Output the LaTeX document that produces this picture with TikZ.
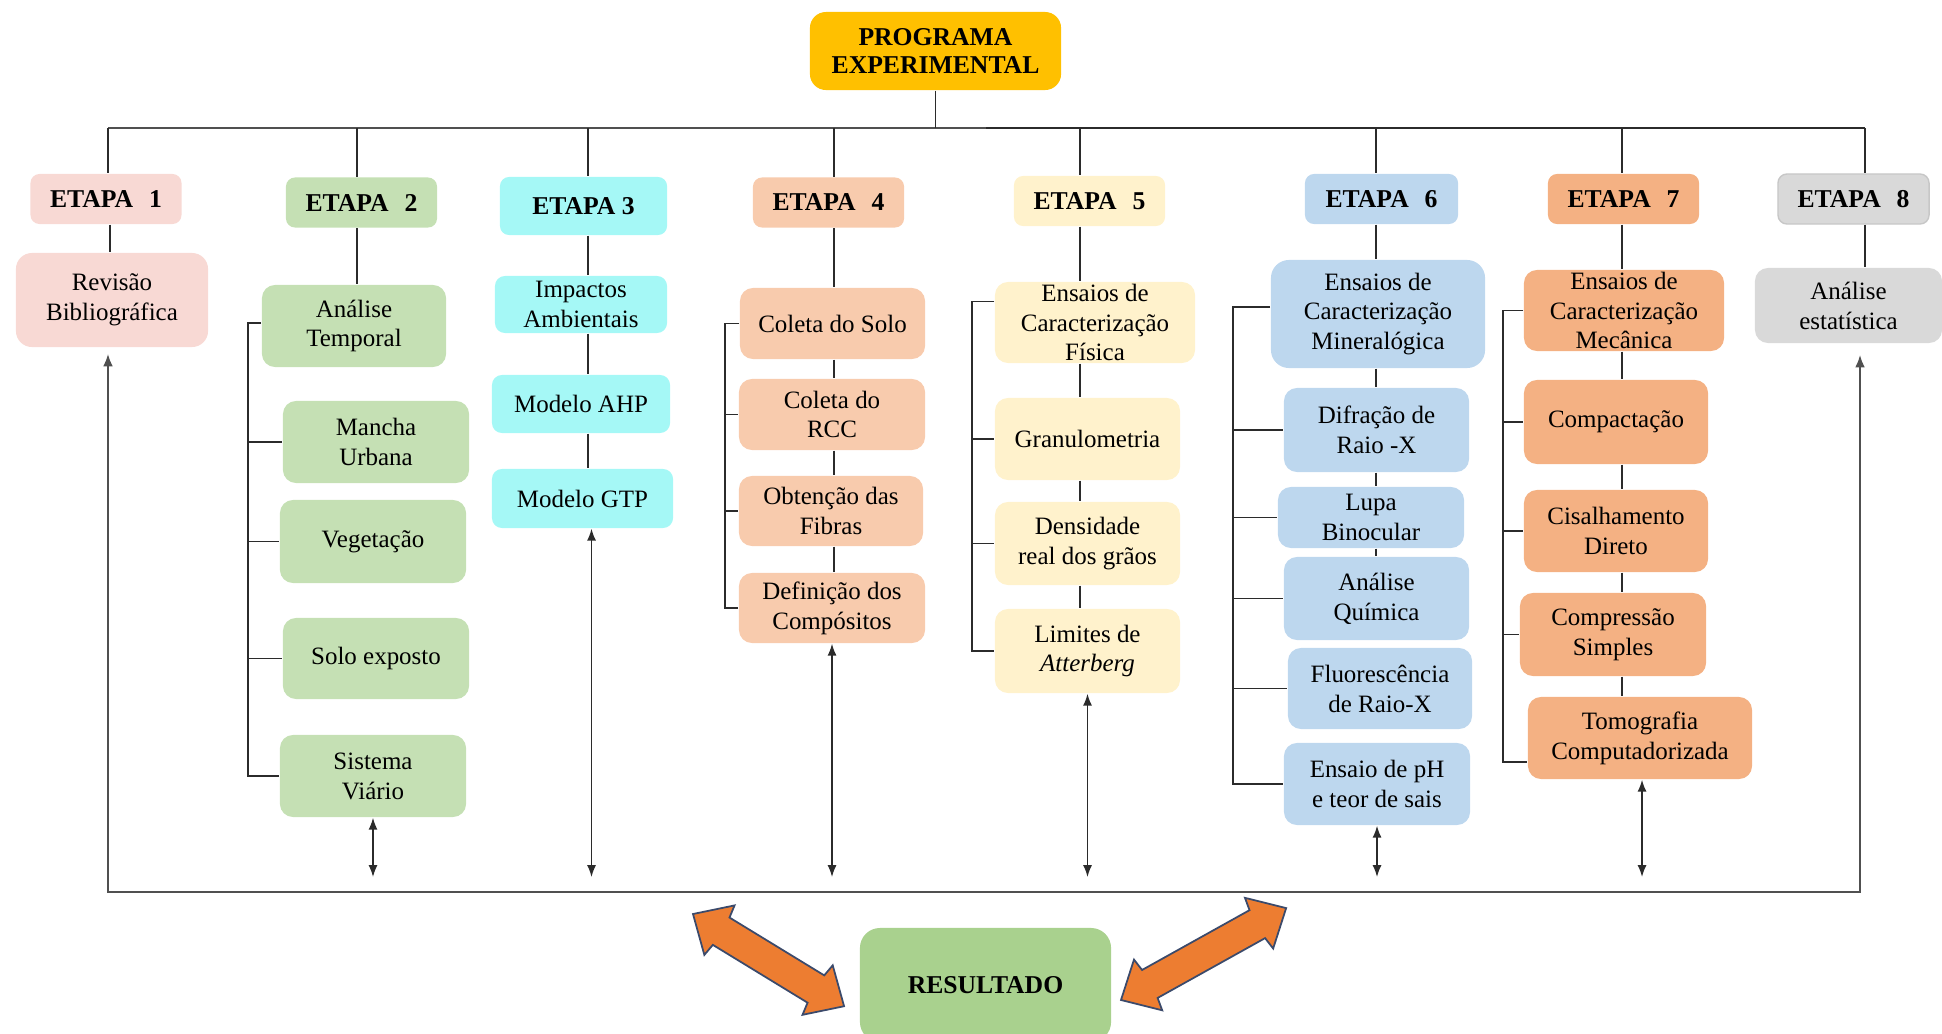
\documentclass[tikz,border=0pt]{standalone}
\usepackage{fontspec}
\setmainfont{Liberation Serif}
\usetikzlibrary{arrows.meta,calc}
\definecolor{cProg}{HTML}{FFC000}
\definecolor{cE1}{HTML}{F8D9D4}
\definecolor{cE2}{HTML}{C5E0B4}
\definecolor{cE3}{HTML}{A5F8F6}
\definecolor{cE4}{HTML}{F8CBAD}
\definecolor{cE5}{HTML}{FFF2CC}
\definecolor{cE6}{HTML}{BDD7EE}
\definecolor{cE7}{HTML}{F4B183}
\definecolor{cE8}{HTML}{D9D9D9}
\definecolor{cRes}{HTML}{A9D18E}
\definecolor{cArr}{HTML}{ED7D31}
\definecolor{cArrLine}{HTML}{3B4A6B}
\definecolor{cLine}{HTML}{2B2B2B}
\definecolor{cFrame}{HTML}{505050}
\newcommand{\fs}{\fontsize{7.1pt}{8.5pt}\selectfont}
\newcommand{\fb}{\fontsize{7.3pt}{8.2pt}\selectfont\bfseries}
\begin{document}
\begin{tikzpicture}[x=0.01cm,y=-0.01cm,
  box/.style={rounded corners=0.13cm, align=center, inner sep=0pt, font=\fs},
  ebox/.style={rounded corners=0.09cm, align=center, inner sep=0pt, font=\fb, minimum width=1.51cm, minimum height=0.50cm},
  conn/.style={draw=cLine, line width=0.45pt},
  dbl/.style={conn, {Latex[length=3.4pt,width=2.6pt]}-{Latex[length=3.4pt,width=2.6pt]}},
  frame/.style={draw=cFrame, line width=0.65pt},
  blockarr/.style={fill=cArr, draw=cArrLine, line width=0.5pt, line join=miter}
]
\useasboundingbox (0,0) rectangle (1942,1033);
\clip (0,0) rectangle (1942,1033);

% ---------- top ----------
\node[box, fill=cProg, font=\fb, minimum width=2.51cm, minimum height=0.78cm, rounded corners=0.16cm] (prog) at (935.5,51) {PROGRAMA\\EXPERIMENTAL};

% ---------- ETAPA boxes ----------
\node[ebox, fill=cE1] (e1) at (106,199) {ETAPA\hspace{4.5pt}1};
\node[ebox, fill=cE2] (e2) at (361.5,202.5) {ETAPA\hspace{4.5pt}2};
\node[ebox, fill=cE3, minimum width=1.67cm, minimum height=0.58cm] (e3) at (583.5,206) {ETAPA 3};
\node[ebox, fill=cE4] (e4) at (828.5,202.5) {ETAPA\hspace{4.5pt}4};
\node[ebox, fill=cE5] (e5) at (1089.5,201) {ETAPA\hspace{4.5pt}5};
\node[ebox, fill=cE6, minimum width=1.53cm] (e6) at (1381.5,199) {ETAPA\hspace{4.5pt}6};
\node[ebox, fill=cE7] (e7) at (1623.5,199) {ETAPA\hspace{4.5pt}7};
\node[ebox, fill=cE8, draw=black!22, line width=0.4pt] (e8) at (1853.5,199) {ETAPA\hspace{4.5pt}8};

% ---------- column 1 ----------
\node[box, fill=cE1, minimum width=1.92cm, minimum height=0.94cm, rounded corners=0.16cm] (rev) at (112,300) {Revisão\\Bibliográfica};

% ---------- column 2 ----------
\node[box, fill=cE2, minimum width=1.84cm, minimum height=0.82cm] (at) at (354,326) {Análise\\Temporal};
\node[box, fill=cE2, minimum width=1.86cm, minimum height=0.82cm] (man) at (376,442) {Mancha\\Urbana};
\node[box, fill=cE2, minimum width=1.86cm, minimum height=0.83cm] (veg) at (373,541.5) {Vegetação};
\node[box, fill=cE2, minimum width=1.86cm, minimum height=0.81cm] (solo) at (376,658.5) {Solo exposto};
\node[box, fill=cE2, minimum width=1.86cm, minimum height=0.82cm] (sis) at (373,776) {Sistema\\Viário};

% ---------- column 3 ----------
\node[box, fill=cE3, minimum width=1.72cm, minimum height=0.57cm, rounded corners=0.1cm] (imp) at (581,304.5) {Impactos\\Ambientais};
\node[box, fill=cE3, minimum width=1.78cm, minimum height=0.58cm, rounded corners=0.1cm] (ahp) at (581,404) {Modelo AHP};
\node[box, fill=cE3, minimum width=1.81cm, minimum height=0.59cm, rounded corners=0.1cm] (gtp) at (582.5,498.5) {Modelo GTP};

% ---------- column 4 ----------
\node[box, fill=cE4, minimum width=1.85cm, minimum height=0.71cm] (cs) at (832.5,323.5) {Coleta do Solo};
\node[box, fill=cE4, minimum width=1.86cm, minimum height=0.71cm] (rcc) at (832,414.5) {Coleta do\\RCC};
\node[box, fill=cE4, minimum width=1.84cm, minimum height=0.70cm] (obt) at (831,511) {Obtenção das\\Fibras};
\node[box, fill=cE4, minimum width=1.86cm, minimum height=0.70cm] (def) at (832,608) {Definição dos\\Compósitos};

% ---------- column 5 ----------
\node[box, fill=cE5, minimum width=2.00cm, minimum height=0.81cm] (fis) at (1095,322.5) {Ensaios de\\Caracterização\\Física};
\node[box, fill=cE5, minimum width=1.85cm, minimum height=0.82cm] (gra) at (1087.5,439) {Granulometria};
\node[box, fill=cE5, minimum width=1.85cm, minimum height=0.83cm] (den) at (1087.5,543.5) {Densidade\\real dos grãos};
\node[box, fill=cE5, minimum width=1.85cm, minimum height=0.84cm] (lim) at (1087.5,651) {Limites de\\\textit{Atterberg}};

% ---------- column 6 ----------
\node[box, fill=cE6, minimum width=2.14cm, minimum height=1.08cm, rounded corners=0.18cm] (min) at (1378,314) {Ensaios de\\Caracterização\\Mineralógica};
\node[box, fill=cE6, minimum width=1.85cm, minimum height=0.84cm] (dif) at (1376.5,430) {Difração de\\Raio -X};
\node[box, fill=cE6, minimum width=1.86cm, minimum height=0.61cm] (lupa) at (1371,517.5) {Lupa\\Binocular};
\node[box, fill=cE6, minimum width=1.85cm, minimum height=0.83cm] (aq) at (1376.5,598.5) {Análise\\Química};
\node[box, fill=cE6, minimum width=1.84cm, minimum height=0.81cm] (flu) at (1380,688.5) {Fluorescência\\de Raio-X};
\node[box, fill=cE6, minimum width=1.86cm, minimum height=0.82cm] (ph) at (1377,784) {Ensaio de pH\\e teor de sais};

% ---------- column 7 ----------
\node[box, fill=cE7, minimum width=2.00cm, minimum height=0.81cm] (mec) at (1624,310.5) {Ensaios de\\Caracterização\\Mecânica};
\node[box, fill=cE7, minimum width=1.84cm, minimum height=0.84cm] (comp) at (1616,422) {Compactação};
\node[box, fill=cE7, minimum width=1.84cm, minimum height=0.82cm] (cis) at (1616,531) {Cisalhamento\\Direto};
\node[box, fill=cE7, minimum width=1.86cm, minimum height=0.83cm] (cps) at (1613,634.5) {Compressão\\Simples};
\node[box, fill=cE7, minimum width=2.24cm, minimum height=0.82cm] (tomo) at (1640,738) {Tomografia\\Computadorizada};

% ---------- column 8 ----------
\node[box, fill=cE8, minimum width=1.87cm, minimum height=0.75cm] (est) at (1848.5,305.5) {Análise\\estatística};

% ---------- result ----------
\node[box, fill=cRes, font=\fb, minimum width=2.51cm, minimum height=1.14cm, rounded corners=0.2cm] (res) at (985.5,985) {RESULTADO};

% ---------- column axes ----------
\coordinate (c1) at (110,0);
\coordinate (c2) at (357,0);
\coordinate (c3) at (588,0);
\coordinate (c4) at (834,0);
\coordinate (c5) at (1080,0);
\coordinate (c6) at (1376,0);
\coordinate (c7) at (1622,0);
\coordinate (c8) at (1865,0);

% ---------- top bus ----------
\coordinate (busL) at (108,128);
\coordinate (busM) at (986,128);
\coordinate (busR) at (1865,128);
\draw[frame] (busL) -- (busM);
\draw[conn] (busM) -- (busR);
\draw[conn] (prog.south) -- (prog.south |- busL);
\draw[conn] (busL) -- (busL |- e1.north);
\foreach \n/\c in {e2/c2,e3/c3,e4/c4,e5/c5,e6/c6,e7/c7,e8/c8} {
  \draw[conn] (\c |- busL) -- (\c |- \n.north);
}

% ---------- column chains ----------
\draw[conn] (c1 |- e1.south) -- (c1 |- rev.north);
\draw[conn] (c2 |- e2.south) -- (c2 |- at.north);
\draw[conn] (c3 |- e3.south) -- (c3 |- imp.north);
\draw[conn] (c3 |- imp.south) -- (c3 |- ahp.north);
\draw[conn] (c3 |- ahp.south) -- (c3 |- gtp.north);
\draw[conn] (c4 |- e4.south) -- (c4 |- cs.north);
\draw[conn] (c4 |- cs.south) -- (c4 |- rcc.north);
\draw[conn] (c4 |- rcc.south) -- (c4 |- obt.north);
\draw[conn] (c4 |- obt.south) -- (c4 |- def.north);
\draw[conn] (c5 |- e5.south) -- (c5 |- fis.north);
\draw[conn] (c5 |- fis.south) -- (c5 |- gra.north);
\draw[conn] (c5 |- gra.south) -- (c5 |- den.north);
\draw[conn] (c5 |- den.south) -- (c5 |- lim.north);
\draw[conn] (c6 |- e6.south) -- (c6 |- min.north);
\draw[conn] (c6 |- min.south) -- (c6 |- dif.north);
\draw[conn] (c6 |- dif.south) -- (c6 |- lupa.north);
\draw[conn] (c6 |- lupa.south) -- (c6 |- aq.north);
\draw[conn] (c7 |- e7.south) -- (c7 |- mec.north);
\draw[conn] (c7 |- mec.south) -- (c7 |- comp.north);
\draw[conn] (c7 |- comp.south) -- (c7 |- cis.north);
\draw[conn] (c7 |- cis.south) -- (c7 |- cps.north);
\draw[conn] (c7 |- cps.south) -- (c7 |- tomo.north);
\draw[conn] (c8 |- e8.south) -- (c8 |- est.north);

% ---------- brackets ----------
\coordinate (b2) at (248,0);
\coordinate (b4) at (725,0);
\coordinate (b5) at (972,0);
\coordinate (b6) at (1233,0);
\coordinate (b7) at (1503,0);

\draw[conn] ([yshift=0.03cm]at.west) -- ([yshift=0.03cm]at.west -| b2) -- (sis.west -| b2) -- (sis.west);
\foreach \n in {man,veg,solo} { \draw[conn] (\n.west -| b2) -- (\n.west); }

\draw[conn] (cs.west) -- (cs.west -| b4) -- (def.west -| b4) -- (def.west);
\foreach \n in {rcc,obt} { \draw[conn] (\n.west -| b4) -- (\n.west); }

\draw[conn] ([yshift=0.21cm]fis.west) -- ([yshift=0.21cm]fis.west -| b5) -- (lim.west -| b5) -- (lim.west);
\foreach \n in {gra,den} { \draw[conn] (\n.west -| b5) -- (\n.west); }

\draw[conn] ([yshift=0.07cm]min.west) -- ([yshift=0.07cm]min.west -| b6) -- (ph.west -| b6) -- (ph.west);
\foreach \n in {dif,lupa,aq,flu} { \draw[conn] (\n.west -| b6) -- (\n.west); }

\draw[conn] (mec.west) -- (mec.west -| b7) -- ([yshift=-0.24cm]tomo.west -| b7) -- ([yshift=-0.24cm]tomo.west);
\foreach \n in {comp,cis,cps} { \draw[conn] (\n.west -| b7) -- (\n.west); }

% ---------- vertical double arrows ----------
\coordinate (ab) at (0,877);
\draw[dbl] (sis.south) -- (sis.south |- ab);
\draw[dbl] ([xshift=0.09cm]gtp.south) -- ([xshift=0.09cm]gtp.south |- ab);
\draw[dbl] (def.south) -- (def.south |- ab);
\draw[dbl] (lim.south) -- (lim.south |- ab);
\draw[dbl] (ph.south) -- (ph.south |- ab);
\draw[dbl] ([xshift=0.02cm]tomo.south) -- ([xshift=0.02cm]tomo.south |- ab);

% ---------- outer frame ----------
\coordinate (fL) at (108,892);
\coordinate (fR) at (1860,892);
\draw[frame, {Latex[length=3.6pt,width=2.8pt]}-{Latex[length=3.6pt,width=2.8pt]}]
  ([yshift=-0.06cm]rev.south -| fL) -- (fL) -- (fR) -- ([yshift=-0.11cm]est.south -| fR);

% ---------- orange block arrows ----------
\begin{scope}[shift={(693,914)}, rotate=-31.4]
  \draw[blockarr] (0,0) -- (31,29) -- (33,16) -- (144,16) -- (146,29) -- (177,0)
     -- (146,-29) -- (144,-16) -- (33,-16) -- (31,-29) -- cycle;
\end{scope}
\begin{scope}[shift={(1121,1000)}, rotate=29.1]
  \draw[blockarr] (0,0) -- (31,29) -- (33,16) -- (156,16) -- (158,29) -- (189,0)
     -- (158,-29) -- (156,-16) -- (33,-16) -- (31,-29) -- cycle;
\end{scope}

\end{tikzpicture}
\end{document}
